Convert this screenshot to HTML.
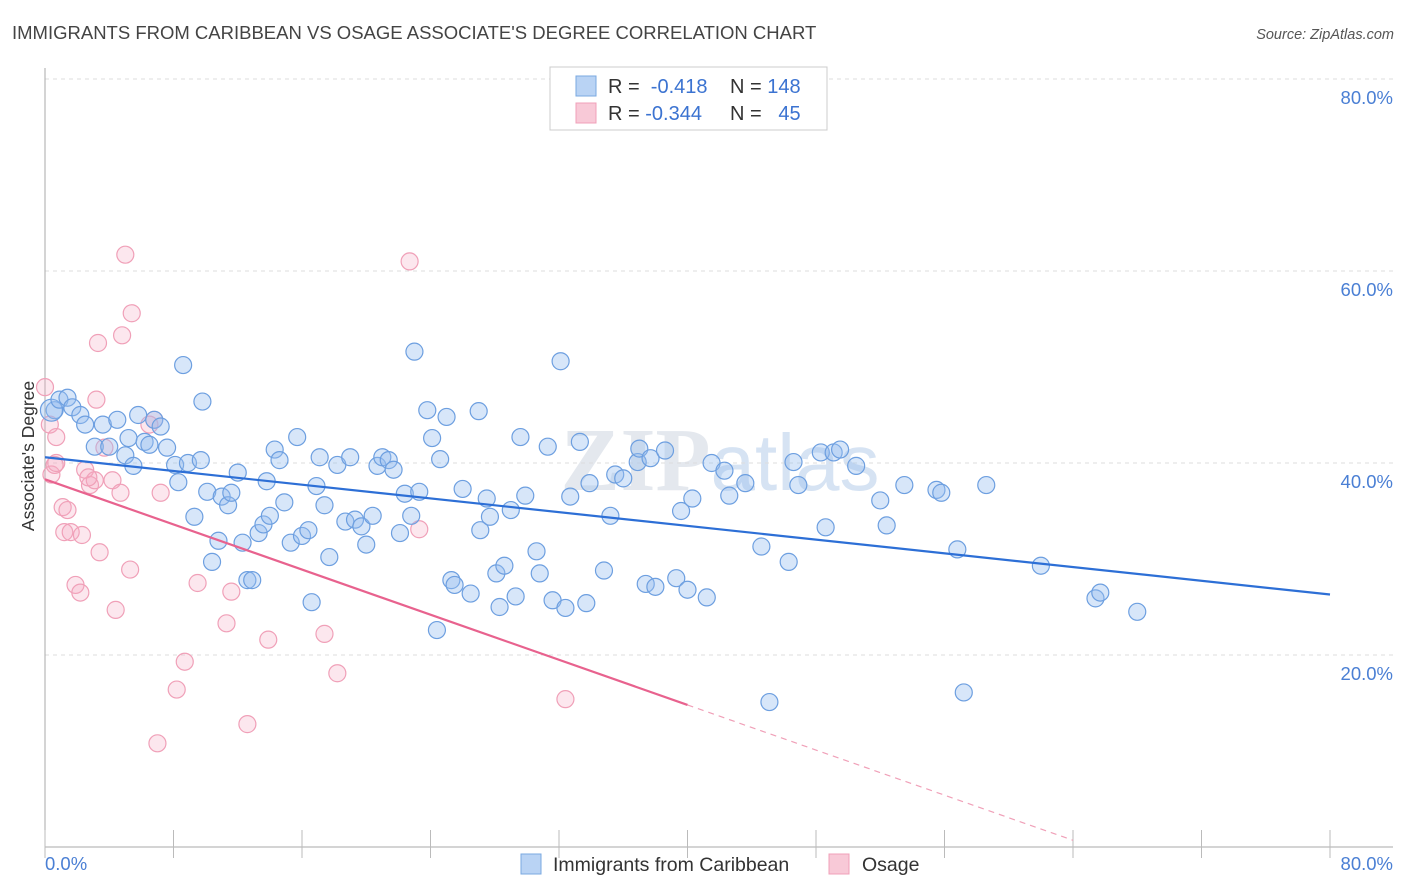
<!DOCTYPE html>
<html><head><meta charset="utf-8"><style>
body{margin:0;background:#fff;font-family:"Liberation Sans",sans-serif;}
svg{display:block}
</style></head><body>
<svg id="chart" width="1406" height="892">
<text x="12" y="39" font-size="18.5" fill="#444">IMMIGRANTS FROM CARIBBEAN VS OSAGE ASSOCIATE'S DEGREE CORRELATION CHART</text>
<text x="1394" y="39" font-size="14.5" fill="#555" font-style="italic" text-anchor="end">Source: ZipAtlas.com</text>
<text x="720" y="490" font-size="90" fill="#e4e8ee" text-anchor="middle" font-family="Liberation Serif,serif" font-weight="bold">ZIP<tspan font-family="Liberation Sans,sans-serif" font-weight="normal" font-size="80" fill="#d6e3f3">atlas</tspan></text>
<g id="grid"></g><g id="axes"></g><g id="pts"></g><g id="lines"></g>
<text transform="translate(34,456) rotate(-90)" font-size="17.5" fill="#333" text-anchor="middle">Associate's Degree</text>
<g>
<rect x="550" y="67" width="277" height="63" fill="#fff" stroke="#ccc"/>
<rect x="576" y="76" width="20" height="20" fill="#b9d3f4" stroke="#7aa8e0"/>
<rect x="576" y="103" width="20" height="20" fill="#f8c9d7" stroke="#f0a0b8"/>
<text x="608" y="93" font-size="20" fill="#333">R = <tspan fill="#3b73d1">&#160;-0.418</tspan><tspan x="730">N = </tspan><tspan fill="#3b73d1">148</tspan></text>
<text x="608" y="120" font-size="20" fill="#333">R = <tspan fill="#3b73d1">-0.344</tspan><tspan x="730">N = </tspan><tspan fill="#3b73d1">&#160;&#160;45</tspan></text>
</g>
<g>
<rect x="521" y="854" width="20" height="20" fill="#b9d3f4" stroke="#7aa8e0"/>
<text x="553" y="871" font-size="19.5" fill="#333">Immigrants from Caribbean</text>
<rect x="829" y="854" width="20" height="20" fill="#f8c9d7" stroke="#f0a0b8"/>
<text x="862" y="871" font-size="19.5" fill="#333">Osage</text>
</g>
</svg>
<script>
const yTicks=[20,40,60,80];
const blueX=[0.6,0.4,0.9,1.4,1.7,2.2,2.5,3.1,3.6,4.0,4.5,5.0,5.2,5.5,5.8,6.2,6.5,6.8,7.2,7.6,8.1,8.3,8.6,8.9,9.3,9.7,9.8,10.1,10.4,10.8,11.0,11.4,11.6,12.0,12.3,12.6,12.9,13.3,13.6,13.8,14.0,14.3,14.6,14.9,15.3,15.7,16.0,16.4,16.6,16.9,17.1,17.4,17.7,18.2,18.7,19.0,19.3,19.7,20.0,20.4,20.7,21.0,21.4,21.7,22.1,22.4,22.8,23.0,23.3,23.8,24.1,24.4,24.6,25.0,25.3,25.5,26.0,26.5,27.0,27.1,27.5,27.7,28.1,28.3,28.6,29.0,29.3,29.6,29.9,30.6,30.8,31.3,31.6,32.1,32.4,32.7,33.3,33.7,33.9,34.8,35.2,35.5,36.0,36.9,37.0,37.4,37.7,38.0,38.6,39.3,39.6,40.0,40.3,41.2,41.5,42.3,42.6,43.6,44.6,45.1,46.3,46.6,46.9,48.3,48.6,49.1,49.5,50.5,52.0,52.4,53.5,55.5,55.8,56.8,57.2,58.6,62.0,65.4,65.7,68.0];
const blueY=[45.5,45.5,46.6,46.8,45.8,45.0,44.0,41.7,44.0,41.7,44.5,40.8,42.6,39.7,45.0,42.2,41.9,44.5,43.8,41.6,39.8,38.0,50.2,40.0,34.4,40.3,46.4,37.0,29.7,31.9,36.5,35.6,36.9,39.0,31.7,27.8,27.8,32.7,33.6,38.1,34.5,41.4,40.3,35.9,31.7,42.7,32.4,33.0,25.5,37.6,40.6,35.6,30.2,39.8,33.9,40.6,34.1,33.4,31.5,34.5,39.7,40.6,40.3,39.3,32.7,36.8,34.5,51.6,37.0,45.5,42.6,22.6,40.4,44.8,27.8,27.3,37.3,26.4,45.4,33.0,36.3,34.4,28.5,25.0,29.3,35.1,26.1,42.7,36.6,30.8,28.5,41.7,25.7,50.6,24.9,36.5,42.2,25.4,37.9,28.8,34.5,38.8,38.4,40.1,41.5,27.4,40.5,27.1,41.3,28.0,35.0,26.8,36.3,26.0,40.0,39.2,36.6,37.9,31.3,15.1,29.7,40.1,37.7,41.1,33.3,41.1,41.4,39.7,36.1,33.5,37.7,37.2,36.9,31.0,16.1,37.7,29.3,25.9,26.5,24.5];
const pinkX=[0,0.3,0.4,0.6,0.7,1.1,1.2,1.4,1.6,1.9,2.2,2.3,2.5,2.8,3.1,3.2,3.4,3.7,4.2,4.4,4.7,5.0,5.3,5.4,4.8,3.3,6.8,7.0,7.2,8.2,8.7,9.5,11.3,11.6,12.6,13.9,17.4,18.2,22.7,23.3,32.4,0.7,2.7,6.5];
const pinkY=[47.9,44.0,38.8,39.8,42.7,35.4,32.8,35.1,32.8,27.3,26.5,32.5,39.3,37.7,38.2,46.6,30.7,41.6,38.2,24.7,36.9,61.7,28.9,55.6,53.3,52.5,44.5,10.8,36.9,16.4,19.3,27.5,23.3,26.6,12.8,21.6,22.2,18.1,61.0,33.1,15.4,40.0,38.5,44.0];
const blueTrend=[40.6,26.3];
const pinkTrend=[38.3,-0.5875];
const pinkSolidEnd=40, pinkDashEnd=64;

const NS="http://www.w3.org/2000/svg";
const X=v=>45+v*1285/80, Y=v=>847-v*9.6;
function mk(tag,attrs,parent){const e=document.createElementNS(NS,tag);for(const k in attrs)e.setAttribute(k,attrs[k]);parent.appendChild(e);return e;}
const grid=document.getElementById('grid'),axes=document.getElementById('axes'),pts=document.getElementById('pts'),lines=document.getElementById('lines');
yTicks.forEach(t=>{
 const l=mk('line',{x1:45,x2:1393,y1:Y(t),y2:Y(t),stroke:'#ddd','stroke-dasharray':'4,4'},grid);
 
 
 const tx=mk('text',{x:1393,y:Y(t)+25,'font-size':18.5,fill:'#4a7fd4','text-anchor':'end'},grid);
 tx.textContent=t.toFixed(1)+'%';
 
 
});
const ya=mk('line',{x1:45,x2:45,y1:68,y2:847,stroke:'#aaa'},axes);


const xa=mk('line',{x1:45,x2:1393,y1:847,y2:847,stroke:'#aaa'},axes);


for(let i=0;i<=10;i++){
 const t=mk('line',{x1:X(i*8),x2:X(i*8),y1:830,y2:858,stroke:'#bbb'},axes);
 
 
}
[[0,'0.0%',45,'start'],[80,'80.0%',1393,'end']].forEach(a=>{
 const t=mk('text',{x:a[2],y:870,'font-size':18.5,fill:'#4a7fd4','text-anchor':a[3]},axes);
 t.textContent=a[1];
 
 
});
pinkX.forEach((x,i)=>{
 const c=mk('circle',{cx:X(x),cy:Y(pinkY[i]),r:8.5,fill:'rgba(245,170,195,0.28)',stroke:'#f0a0b8','stroke-width':1.2},pts);
 
 
});
blueX.forEach((x,i)=>{
 const c=mk('circle',{cx:X(x),cy:Y(blueY[i]),r:i==1?11:8.5,fill:'rgba(150,190,240,0.38)',stroke:'#6d9fe0','stroke-width':1.2},pts);
 
 
});
const bl=mk('line',{x1:X(0),y1:Y(blueTrend[0]),x2:X(80),y2:Y(blueTrend[1]),stroke:'#2d6fd6','stroke-width':2.2},lines);


const pf=v=>pinkTrend[0]+pinkTrend[1]*v;
const pl=mk('line',{x1:X(0),y1:Y(pf(0)),x2:X(pinkSolidEnd),y2:Y(pf(pinkSolidEnd)),stroke:'#e8628e','stroke-width':2.2},lines);


const pd=mk('line',{x1:X(pinkSolidEnd),y1:Y(pf(pinkSolidEnd)),x2:X(pinkDashEnd),y2:Y(pf(pinkDashEnd)),stroke:'#f0a0b8','stroke-width':1.2,'stroke-dasharray':'6,5'},lines);


</script>
</body></html>
